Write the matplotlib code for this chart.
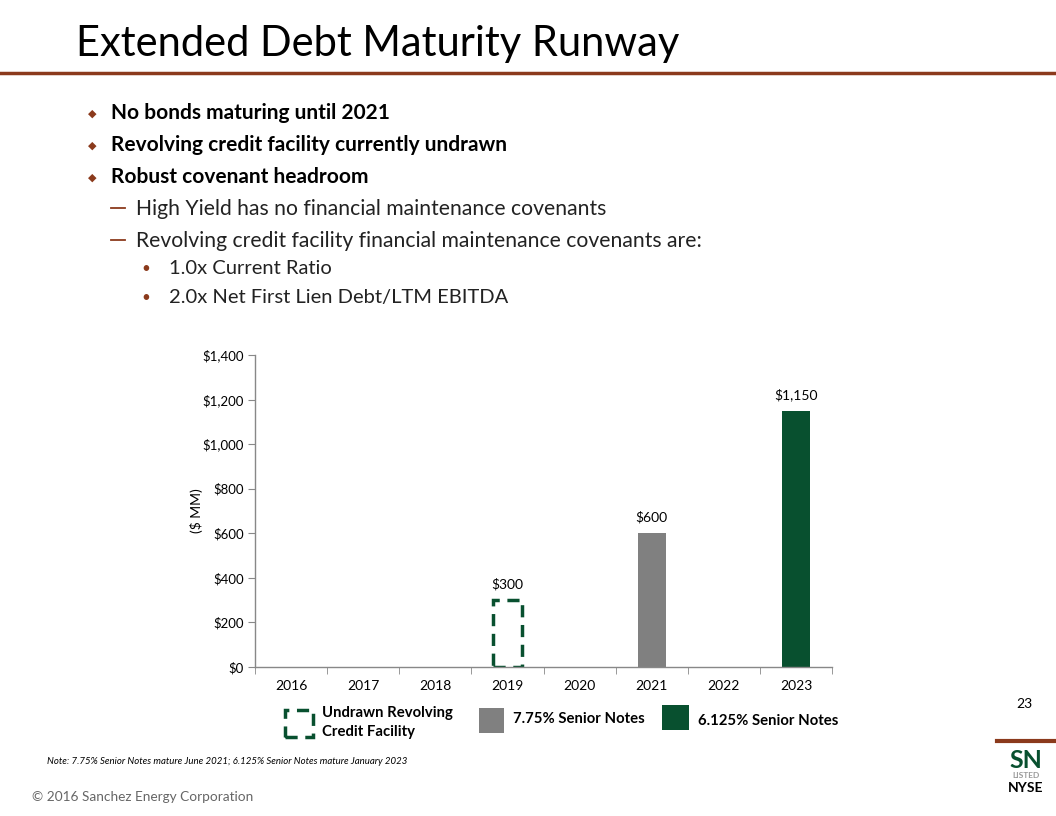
import matplotlib
matplotlib.use("Agg")
import matplotlib.pyplot as plt
from matplotlib.patches import Rectangle
from matplotlib.lines import Line2D
import numpy as np

# ---------------- data ----------------
years = ["2016", "2017", "2018", "2019", "2020", "2021", "2022", "2023"]
revolver = [0, 0, 0, 300, 0, 0, 0, 0]          # undrawn revolving credit facility
notes_775 = [0, 0, 0, 0, 0, 600, 0, 0]          # 7.75% senior notes
notes_6125 = [0, 0, 0, 0, 0, 0, 0, 1150]        # 6.125% senior notes
yticks = [0, 200, 400, 600, 800, 1000, 1200, 1400]

title = "Extended Debt Maturity Runway"
bullets = ["No bonds maturing until 2021",
           "Revolving credit facility currently undrawn",
           "Robust covenant headroom"]
subbullets = ["High Yield has no financial maintenance covenants",
              "Revolving credit facility financial maintenance covenants are:"]
subsub = ["1.0x Current Ratio", "2.0x Net First Lien Debt/LTM EBITDA"]

GREEN = "#08502f"
GREY = "#808080"
BROWN = "#8b3a1c"

plt.rcParams['font.family'] = ['Lato', 'DejaVu Sans']

W, H = 1056, 816
fig = plt.figure(figsize=(W / 100, H / 100), dpi=100)

def fx(x): return x / W
def fy(y): return 1 - y / H

# ---------------- slide header ----------------
fig.text(fx(76), fy(44), title, fontsize=30, fontweight='normal', color='black',
         va='center', ha='left')
fig.add_artist(Line2D([0, 1], [fy(73), fy(73)], color=BROWN, lw=2.5))

by = [113, 145, 177]
for t, y in zip(bullets, by):
    fig.text(fx(92), fy(y + 1), "\u25C6", fontsize=8, color=BROWN, va='center', ha='center',
             family=['DejaVu Sans'])
    fig.text(fx(111), fy(y), t, fontsize=15, fontweight='bold', color='black', va='center')
sy = [209, 241]
for t, y in zip(subbullets, sy):
    fig.add_artist(Line2D([fx(111), fx(125)], [fy(y - 1), fy(y - 1)], color=BROWN, lw=1.3))
    fig.text(fx(136), fy(y), t, fontsize=15.2, color='#222222', va='center')
ssy = [269, 298]
for t, y in zip(subsub, ssy):
    fig.text(fx(146), fy(y), "\u2022", fontsize=11, color=BROWN, va='center', ha='center')
    fig.text(fx(169), fy(y), t, fontsize=14.5, color='#222222', va='center')

# ---------------- chart ----------------
ax = fig.add_axes([fx(255), fy(667), fx(832) - fx(255), fy(355) - fy(667)])
x = np.arange(len(years))
bw = 0.39

def nz(vals):
    idx = [i for i, v in enumerate(vals) if v > 0]
    return x[idx], [vals[i] for i in idx]

xg, vg = nz(notes_775)
ax.bar(xg, vg, width=bw, color=GREY)
xd, vd = nz(notes_6125)
ax.bar(xd, vd, width=bw, color=GREEN)
xr, vr = nz(revolver)
ax.bar(xr, vr, width=bw, facecolor='none', edgecolor=GREEN, linewidth=2.5,
       linestyle=(0, (3.5, 2.2)))

allvals = [max(a, b, c) for a, b, c in zip(revolver, notes_775, notes_6125)]
for xi, v in zip(x, allvals):
    if v > 0:
        ax.text(xi, v + 45, f"${v:,.0f}", ha='center', va='bottom', fontsize=10,
                color='black')

ax.set_xlim(-0.5, len(years) - 0.5)
ax.set_ylim(0, 1400)
ax.set_yticks(yticks)
ax.set_yticklabels([f"${v:,.0f}" for v in yticks], fontsize=9.5)
ax.set_xticks(x)
ax.set_xticklabels(years, fontsize=10)
ax.set_xticks(np.arange(-0.5, len(years)), minor=True)
ax.tick_params(axis='x', which='major', length=0, pad=9)
ax.tick_params(axis='x', which='minor', length=5, color='#888888', direction='out')
ax.tick_params(axis='y', length=5, color='#888888', direction='out', pad=3)
for s in ['top', 'right']:
    ax.spines[s].set_visible(False)
for s in ['left', 'bottom']:
    ax.spines[s].set_color('#888888')
    ax.spines[s].set_linewidth(1)
ax.set_ylabel("($ MM)", fontsize=10)
ax.yaxis.set_label_coords((203 - 255) / (832 - 255), 0.5)

# ---------------- legend ----------------
fig.add_artist(Rectangle((fx(285), fy(737)), fx(28), fy(710) - fy(737), transform=fig.transFigure,
                         facecolor='none', edgecolor=GREEN, lw=2.5, linestyle=(0, (3.5, 2.2))))
fig.text(fx(322), fy(713), "Undrawn Revolving", fontsize=10.7, fontweight='bold', va='center')
fig.text(fx(322), fy(732), "Credit Facility", fontsize=10.7, fontweight='bold', va='center')
fig.add_artist(Rectangle((fx(479), fy(733)), fx(25), fy(708) - fy(733), transform=fig.transFigure,
                         facecolor=GREY, edgecolor='none'))
fig.text(fx(513), fy(719), "7.75% Senior Notes", fontsize=10.7, fontweight='bold', va='center')
fig.add_artist(Rectangle((fx(662), fy(730)), fx(27), fy(705) - fy(730), transform=fig.transFigure,
                         facecolor=GREEN, edgecolor='none'))
fig.text(fx(698), fy(721), "6.125% Senior Notes", fontsize=10.7, fontweight='bold', va='center')

# ---------------- footer ----------------
fig.text(fx(1024), fy(704), "23", fontsize=10, ha='center', va='center')
fig.add_artist(Line2D([fx(997), 1], [fy(741), fy(741)], color=BROWN, lw=3))
fig.text(fx(1026), fy(760), "SN", fontsize=18, color=GREEN, ha='center', va='center',
         fontweight='bold')
fig.text(fx(1026), fy(776), "LISTED", fontsize=6, color='#999999', ha='center', va='center',
         fontweight='bold')
fig.text(fx(1026), fy(788), "NYSE", fontsize=10, color='black', ha='center', va='center',
         fontweight='bold')
fig.text(fx(47), fy(762), "Note: 7.75% Senior Notes mature June 2021; 6.125% Senior Notes mature January 2023",
         fontsize=6.9, style='italic', va='center')
fig.text(fx(32), fy(797), "\u00A9 2016 Sanchez Energy Corporation", fontsize=9.8, color='#666666',
         va='center')

fig.savefig("out.png", dpi=100)
